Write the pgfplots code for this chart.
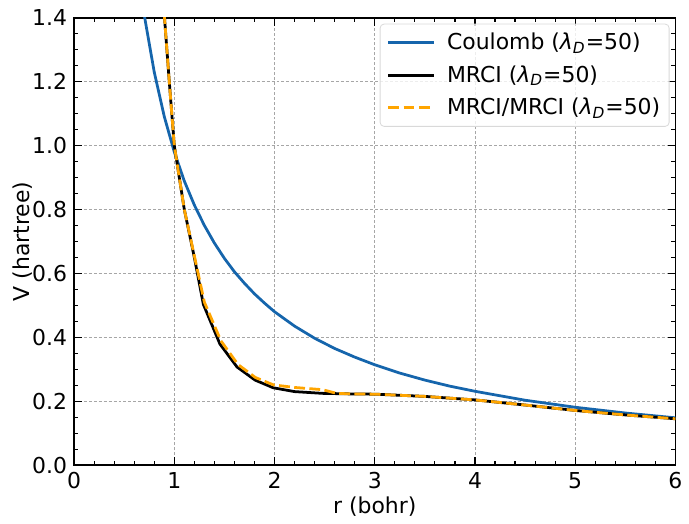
\documentclass[border=0pt]{standalone}
\usepackage{fontspec}
\setmainfont{DejaVu Sans}
\usepackage{pgfplots}
\pgfplotsset{compat=1.18}
\definecolor{cblue}{RGB}{21,101,172}
\definecolor{corange}{RGB}{255,165,0}

\begin{document}
\begin{tikzpicture}[font=\fontsize{11.1}{13}\selectfont]
\begin{axis}[
  scale only axis, width=304.5pt, height=226.5pt,
  xmin=0, xmax=6, ymin=0, ymax=1.4,
  xtick={0,1,2,3,4,5,6}, ytick={0,0.2,0.4,0.6,0.8,1.0,1.2,1.4},
  minor x tick num=4, minor y tick num=3,
  tick align=inside, xtick pos=both, ytick pos=both,
  major tick length=4pt, minor tick length=2pt,
  every tick/.style={black, line width=0.6pt},
  axis line style={line width=0.8pt},
  grid=major, grid style={gray!70, line width=0.4pt, dash pattern=on 1.5pt off 1pt},
  /pgf/number format/assume math mode=true,
  yticklabel style={/pgf/number format/fixed, /pgf/number format/fixed zerofill, /pgf/number format/precision=1},
  xlabel={r (bohr)}, ylabel={V (hartree)},
  xlabel style={at={(axis description cs:0.5,-0.093)}, anchor=center},
  ylabel style={at={(axis description cs:-0.086,0.5)}, anchor=center},
  legend style={at={(1,1)}, anchor=north east, xshift=-3pt, yshift=-3pt,
    draw=gray!30, rounded corners=2pt, fill=white, fill opacity=0.8, text opacity=1,
    inner sep=2.5pt, row sep=2.5pt, cells={anchor=west}},
  legend image code/.code={\draw[#1] (0pt,0pt) -- (23pt,0pt); \path (-1pt,0pt) (27pt,0pt);},
]
\addplot[cblue, line width=1.4pt] coordinates {
 (0.6,1.647) (0.7,1.409) (0.8,1.230) (0.9,1.091) (1.0,0.980) (1.1,0.889)
 (1.2,0.814) (1.3,0.750) (1.4,0.695) (1.5,0.647) (1.6,0.605) (1.7,0.569)
 (1.8,0.536) (1.9,0.507) (2.0,0.480) (2.2,0.435) (2.4,0.397) (2.6,0.365)
 (2.8,0.338) (3.0,0.314) (3.25,0.288) (3.5,0.266) (3.75,0.247) (4.0,0.231)
 (4.5,0.203) (5.0,0.181) (5.5,0.163) (6.0,0.148)};
\addlegendentry{Coulomb (\textit{λ}\textsubscript{\textit{D}}=50)}
\addplot[black, line width=1.4pt] coordinates {
 (0.85,1.70) (0.9,1.41) (0.95,1.20) (1.0,1.00) (1.1,0.80) (1.2,0.65)
 (1.29,0.503) (1.455,0.379) (1.626,0.307) (1.806,0.266) (1.987,0.242)
 (2.2,0.230) (2.48,0.2245) (2.8,0.2225) (3.0,0.222) (3.5,0.215) (4.0,0.204)
 (4.5,0.188) (5.0,0.171) (5.5,0.157) (6.0,0.145)};
\addlegendentry{MRCI (\textit{λ}\textsubscript{\textit{D}}=50)}
\addplot[corange, line width=1.4pt, dash pattern=on 5.5pt off 2.2pt] coordinates {
 (0.85,1.70) (0.9,1.41) (0.95,1.20) (1.0,1.00) (1.1,0.80) (1.2,0.655)
 (1.3,0.51) (1.465,0.389) (1.635,0.315) (1.81,0.274) (1.99,0.251)
 (2.2,0.243) (2.48,0.236) (2.62,0.2245) (2.8,0.2225) (3.0,0.222) (3.5,0.215)
 (4.0,0.204) (4.5,0.188) (5.0,0.171) (5.5,0.157) (6.0,0.145)};
\addlegendentry{MRCI/MRCI (\textit{λ}\textsubscript{\textit{D}}=50)}
\end{axis}
\path ([shift={(-37.5pt,-26.5pt)}]current axis.south west) rectangle ([shift={(2.5pt,9pt)}]current axis.north east);
\end{tikzpicture}
\end{document}
